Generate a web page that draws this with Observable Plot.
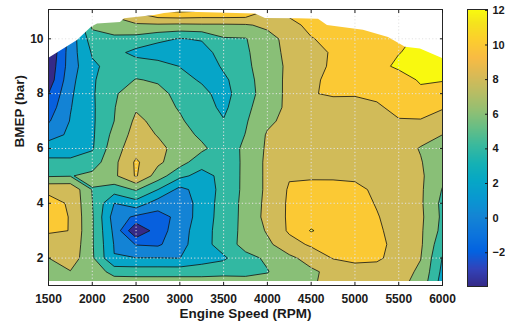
<!DOCTYPE html>
<html><head><meta charset="utf-8">
<script src="https://cdn.jsdelivr.net/npm/d3@7"></script>
<script src="https://cdn.jsdelivr.net/npm/@observablehq/plot@0.6"></script>
<style>
html,body{margin:0;padding:0;background:#fff;}
#wrap{position:relative;width:505px;height:325px;overflow:hidden;}
#main{position:absolute;left:0;top:0;}
#cbar{position:absolute;left:440px;top:0;}
</style></head><body>
<div id="wrap"><div id="main"></div><div id="cbar"></div></div>
<script>
// Engine speed columns (RPM) and BMEP rows (bar, top row first)
const rpm = [1500,1750,2000,2250,2500,2750,3000,3250,3500,3750,4000,4250,4500,4750,5000,5250,5500,5750,6000];
const bmep = [11,10.5,10,9.5,9,8.5,8,7.5,7,6.5,6,5.5,5,4.5,4,3.5,3,2.5,2,1.5,1];
// Mapped quantity, one row per BMEP value
const zGrid = [
 [-3.9,0.0,7.0,8.5,10.3,11.9,12.2,11.9,11.9,11.7,9.6,10.5,11.0,11.2,11.3,11.5,11.8,12.5,12.6],
 [-3.9,0.5,6.5,7.3,7.7,7.7,7.6,7.7,7.7,7.8,8.4,9.4,10.5,11.0,11.3,11.6,11.7,12.4,12.6],
 [-3.9,0.8,5.0,5.5,5.3,4.5,3.9,4.2,5.8,5.9,7.3,8.65,9.9,10.5,11.0,11.5,11.6,12.3,12.5],
 [-3.9,1.0,4.2,4.6,3.45,2.8,2.5,3.0,5.0,5.7,7.2,8.5,9.35,10.2,10.8,11.4,11.95,12.4,12.6],
 [-3.5,1.0,3.7,4.6,5.0,4.9,3.95,2.6,4.3,5.6,7.0,8.4,9.3,10.3,10.8,11.5,12.3,12.5,12.6],
 [-3.2,1.4,3.8,5.0,6.1,5.8,4.6,3.8,3.6,5.3,7.0,8.45,9.7,10.4,10.7,11.2,11.2,12.2,12.1],
 [-2.0,1.7,3.75,5.8,6.9,6.5,5.5,4.5,3.3,5.2,6.9,8.5,9.9,10.2,10.15,10.3,11.0,11.6,11.2],
 [-1.1,1.9,3.7,5.9,7.8,6.9,5.8,4.8,3.6,5.5,7.2,8.4,8.9,9.3,9.4,9.8,10.4,10.6,10.15],
 [-0.2,2.1,3.7,6.0,8.4,7.5,6.3,4.9,4.1,5.8,7.6,8.6,9.0,9.2,9.3,9.5,9.9,9.9,9.2],
 [1.3,2.3,3.7,6.6,8.8,7.9,6.85,5.6,4.6,6.05,8.2,8.7,9.0,9.1,9.1,9.0,8.9,8.6,8.0],
 [2.9,3.1,3.8,7.2,9.2,8.5,7.3,6.4,4.9,6.4,8.3,8.8,9.2,9.3,9.3,9.1,8.7,7.9,7.4],
 [4.5,4.4,5.0,7.5,10.3,8.4,6.8,4.8,4.5,6.5,8.4,9.1,9.3,9.3,9.3,9.0,8.6,8.1,6.9],
 [5.8,5.9,6.5,7.6,10.2,7.0,4.5,3.3,4.55,6.5,8.4,9.85,9.8,9.75,9.7,9.2,8.7,8.3,6.5],
 [9.6,9.6,5.9,5.0,6.2,4.0,1.4,2.9,4.6,6.5,8.4,10.2,10.5,10.6,10.4,9.7,9.0,8.3,5.9],
 [10.6,9.8,6.05,2.0,3.2,1.0,0.5,3.0,4.7,6.6,8.5,10.3,10.8,11.0,10.6,9.9,9.2,8.3,5.5],
 [10.9,9.9,6.2,1.1,-0.4,-0.8,0.6,3.0,4.8,6.6,8.6,10.3,11.0,11.1,10.9,10.1,9.3,8.4,5.6],
 [10.4,9.95,6.2,1.54,-3.9,-0.9,1.1,3.15,4.9,6.6,8.2,10.3,12.15,11.0,10.8,10.3,9.3,8.3,5.4],
 [8.4,9.6,6.2,1.9,-0.1,-0.3,1.3,3.2,4.9,6.7,7.6,9.2,10.3,10.8,10.8,10.5,9.4,8.3,4.6],
 [7.98,9.2,6.3,2.05,2.05,2.05,1.98,3.1,3.7,5.4,6.3,7.6,8.7,10.1,10.4,10.3,9.3,8.05,3.9],
 [7.3,7.9,7.26,5.26,5.1,5.1,5.1,5.1,5.3,5.4,5.9,7.2,7.7,8.5,9.3,9.2,8.7,7.7,3.5],
 [6.8,7.2,7.0,7.5,7.6,7.6,7.6,7.6,7.6,7.2,7.0,7.4,7.8,8.6,9.0,9.0,8.5,7.2,3.0]
];
// Upper limit of the tested region (full-load line) and lowest tested BMEP
const envRPM  = [1500,1831,1991,2060,2322,2368,2711,2825,3000,3864,3978,4355,4584,4686,5097,5383,5577,5748,6000];
const envBMEP = [9.28,9.94,10.42,10.54,10.60,10.73,10.85,10.92,10.98,10.91,10.74,10.73,10.71,10.49,10.31,10.05,9.69,9.63,9.28];
const floorBMEP = 1.15;
// Contour levels, colour limits, ticks
const levels = [-3.95,-2,0,2,4,6,8,10,12];
const clim = [-3.95, 12.05];
const xTicks = [1500,2000,2500,3000,3500,4000,4500,5000,5500,6000];
const yTicks = [2,4,6,8,10];
const cTicks = [-2,0,2,4,6,8,10,12];
const xDomain = [1500, 6000];
const yDomain = [1, 11.07];
// parula colormap samples (positions out of 63)
const parulaIdx = [0,4,8,12,16,20,24,28,32,36,40,44,48,52,56,60,63];
const parula = ["#352a87","#3243ba","#0363e1","#0d75dc","#1485d4","#0998d1","#06a7c6","#15b1b4","#38b99e","#65be86","#92bf73","#b7bd64","#d9ba56","#f8bb44","#fcce2e","#f5e41d","#f9fb0e"];

const colorScale = {
  type: "linear",
  domain: parulaIdx.map(i => clim[0] + (clim[1] - clim[0]) * i / 63),
  range: parula,
  interpolate: "rgb"
};
const flat = zGrid.flat();
const dx = rpm[1] - rpm[0];
const dy = bmep[0] - bmep[1];
const grid = {
  width: rpm.length, height: bmep.length,
  x1: rpm[0] - dx / 2, x2: rpm[rpm.length - 1] + dx / 2,
  y1: bmep[0] + dy / 2, y2: bmep[bmep.length - 1] - dy / 2
};
const env = envRPM.map((r, i) => ({rpm: r, bmep: envBMEP[i]}));
const style = {fontFamily: "'Liberation Sans', Arial, Helvetica, sans-serif", fontSize: "12px", fontWeight: "bold", color: "#1a1a1a", background: "transparent", overflow: "visible"};
const gridStyle = {stroke: "#e2e2e2", strokeOpacity: 1, strokeDasharray: "1.2,2.2", strokeWidth: 1};

const main = Plot.plot({
  width: 460, height: 325,
  marginLeft: 48, marginRight: 18, marginTop: 9, marginBottom: 40,
  x: {domain: xDomain},
  y: {domain: yDomain},
  color: colorScale,
  style,
  marks: [
    Plot.contour(flat, {...grid, fill: Plot.identity, thresholds: levels, stroke: "none", clip: true}),
    Plot.contour(flat, {...grid, value: Plot.identity, thresholds: levels.slice(1), fill: "none", stroke: "#111", strokeWidth: 0.8, clip: true}),
    Plot.areaY(env, {x: "rpm", y1: "bmep", y2: yDomain[1] + 1, fill: "white", clip: true}),
    Plot.areaY(xDomain, {x: d => d, y1: yDomain[0] - 1, y2: floorBMEP, fill: "white", clip: true}),
    Plot.gridX(xTicks, gridStyle),
    Plot.gridY(yTicks, gridStyle),
    Plot.frame({stroke: "#262626", strokeWidth: 1}),
    Plot.axisX(xTicks, {anchor: "bottom", tickSize: -3, tickPadding: 12, label: null, tickFormat: d => String(d)}),
    Plot.axisX(xTicks, {anchor: "top", tickSize: -3, label: null, tickFormat: () => ""}),
    Plot.axisY(yTicks, {anchor: "left", tickSize: -3, tickPadding: 8, label: null}),
    Plot.axisY(yTicks, {anchor: "right", tickSize: -3, label: null, tickFormat: () => ""}),
    Plot.text(["BMEP (bar)"], {frameAnchor: "left", dx: -29, rotate: -90, fontSize: 13.5, fontWeight: "bold"}),
    Plot.text(["Engine Speed (RPM)"], {frameAnchor: "bottom", dy: 32, fontSize: 13.5, fontWeight: "bold"})
  ]
});
document.getElementById("main").appendChild(main);

const cbar = Plot.plot({
  width: 65, height: 325,
  marginLeft: 27, marginRight: 18, marginTop: 9, marginBottom: 39,
  x: {domain: [0, 1], axis: null},
  y: {domain: clim},
  color: colorScale,
  style,
  marks: [
    Plot.raster({x1: 0, x2: 1, y1: clim[1], y2: clim[0], fill: (x, y) => y}),
    Plot.frame({stroke: "#262626", strokeWidth: 1}),
    Plot.axisY(cTicks, {anchor: "right", tickSize: -3, tickPadding: 8, label: null, fontSize: 11})
  ]
});
document.getElementById("cbar").appendChild(cbar);
</script>
</body></html>
